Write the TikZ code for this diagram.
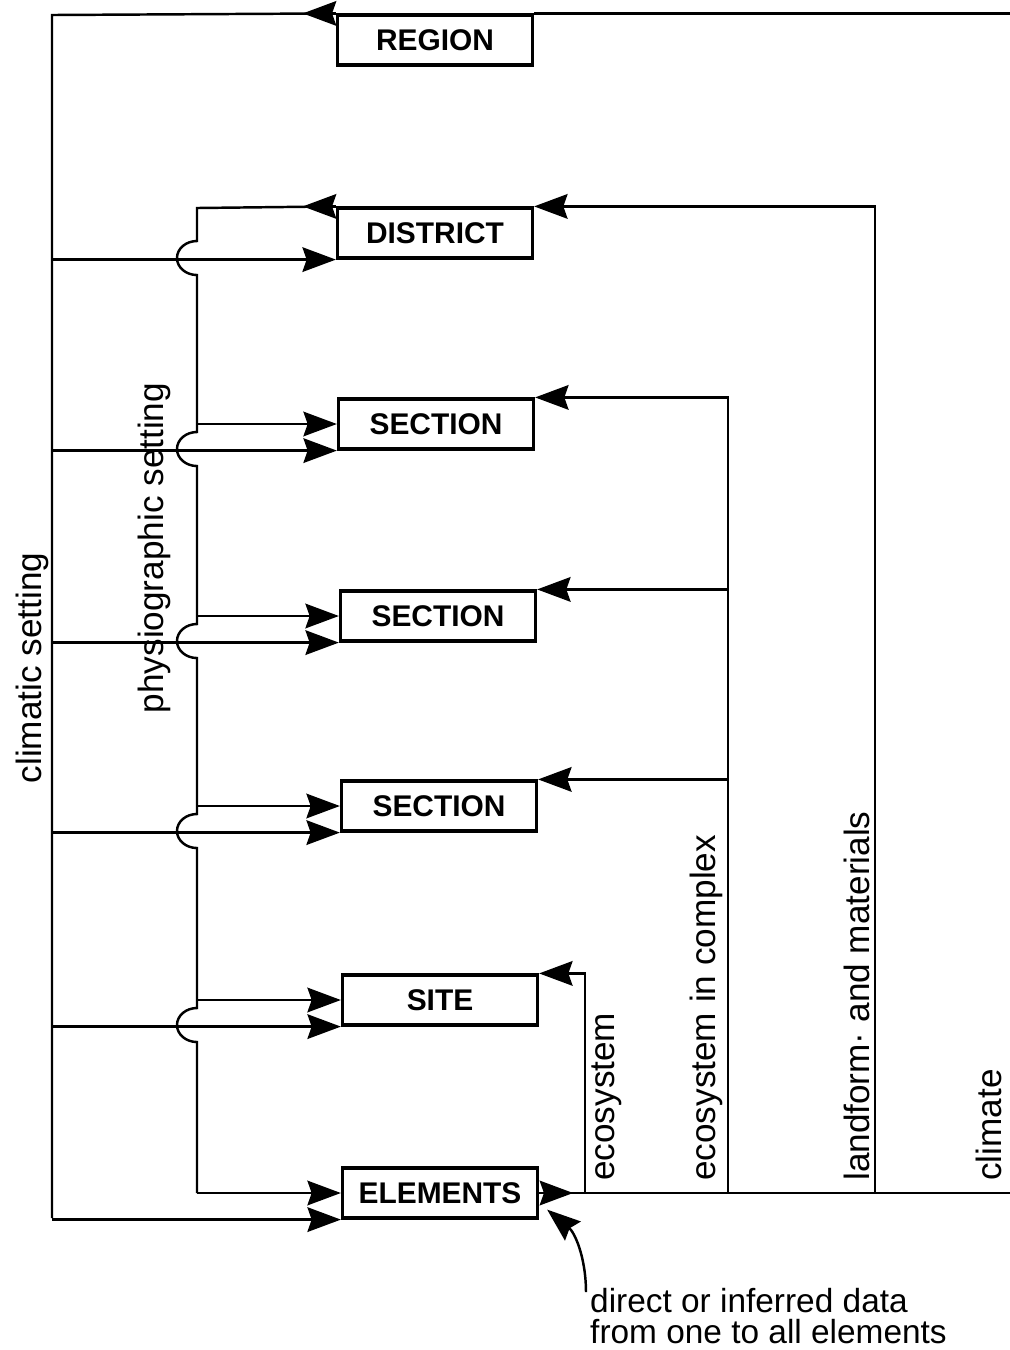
\documentclass[tikz,border=0pt]{standalone}
\usepackage{fontspec}
\setmainfont{Liberation Sans}
\usetikzlibrary{arrows.meta}

\begin{document}
\begin{tikzpicture}[
    x=0.01cm, y=-0.01cm,
    box/.style={rectangle, draw, line width=0.9pt, minimum width=1.95cm, minimum height=0.5cm, inner sep=0pt, font=\fontsize{8.5}{10}\selectfont\bfseries},
    lbl/.style={rotate=90, inner sep=1pt, font=\fontsize{10}{12}\selectfont},
    note/.style={align=left, inner sep=1pt, font=\fontsize{9.5}{8.8}\selectfont},
    line/.style={line width=0.7pt},
    arrow/.style={line width=0.7pt, -{Stealth[length=9.5pt, width=7pt, inset=1.2pt]}}
]
    \useasboundingbox (0,0) rectangle (1010,1350);

    \node[box] (region) at (435,40) {REGION};
    \node[box] (district) at (435,233) {DISTRICT};
    \node[box] (sec1) at (436,424) {SECTION};
    \node[box] (sec2) at (438,616) {SECTION};
    \node[box] (sec3) at (439,806) {SECTION};
    \node[box] (site) at (440,1000) {SITE};
    \node[box] (elements) at (440,1193) {ELEMENTS};

    % setting lines on the left
    \coordinate (ct) at (52,15);
    \coordinate (cb) at (52,1218);
    \coordinate (pt) at (197,208);

    % climatic setting
    \draw[line] (region.north west) -- (ct) -- (cb);
    \draw[arrow] (region.north west) -- ++(-33,0);
    \foreach \n in {district,sec1,sec2,sec3,site,elements}
        \draw[arrow] (\n.south west -| ct) -- (\n.south west);

    % physiographic setting, jumping over the climatic lines
    \draw[line] (district.north west) -- (pt)
        \foreach \y in {258,449,641,831,1025} {
            -- (197,\y-17) arc[start angle=90, end angle=270, x radius=0.2cm, y radius=0.17cm]
        } -- (elements.west -| pt);
    \draw[arrow] (district.north west) -- ++(-33,0);
    \foreach \n in {sec1,sec2,sec3,site,elements}
        \draw[arrow] (\n.west -| pt) -- (\n.west);

    % data from the elements back up
    \coordinate (e1) at (585,1193);
    \coordinate (e2) at (728,1193);
    \coordinate (e3) at (875,1193);
    \coordinate (e4) at (1016,1193);
    \draw[line] (elements.east) -- (e4) |- (region.north east);
    \draw[arrow] (elements.east) -- ++(34,0);
    \draw[arrow] (e1) |- (site.north east);
    \draw[arrow] (e2) |- (sec1.north east);
    \draw[arrow] (sec2.north east -| e2) -- (sec2.north east);
    \draw[arrow] (sec3.north east -| e2) -- (sec3.north east);
    \draw[arrow] (e3) |- (district.north east);

    \node[lbl] (climlbl) at (32,668) {climatic setting};
    \node[lbl] (physlbl) at (154,548) {physiographic setting};
    \node[lbl, anchor=north west] (ecolbl) at (588,1185) {ecosystem};
    \node[lbl, anchor=south west] (cpxlbl) at (727,1185) {ecosystem in complex};
    \node[lbl, anchor=south west] (landlbl) at (874,1185) {landform· and materials};
    \node[lbl, anchor=south west] (climatelbl) at (1006,1185) {climate};

    \node[note, anchor=north west] (note) at (586,1284) {direct or inferred data\\from one to all elements};
    \draw[arrow] ([shift={(0,8)}]note.north west) to[bend right=25] ([shift={(8,-10)}]elements.south east);
\end{tikzpicture}
\end{document}
